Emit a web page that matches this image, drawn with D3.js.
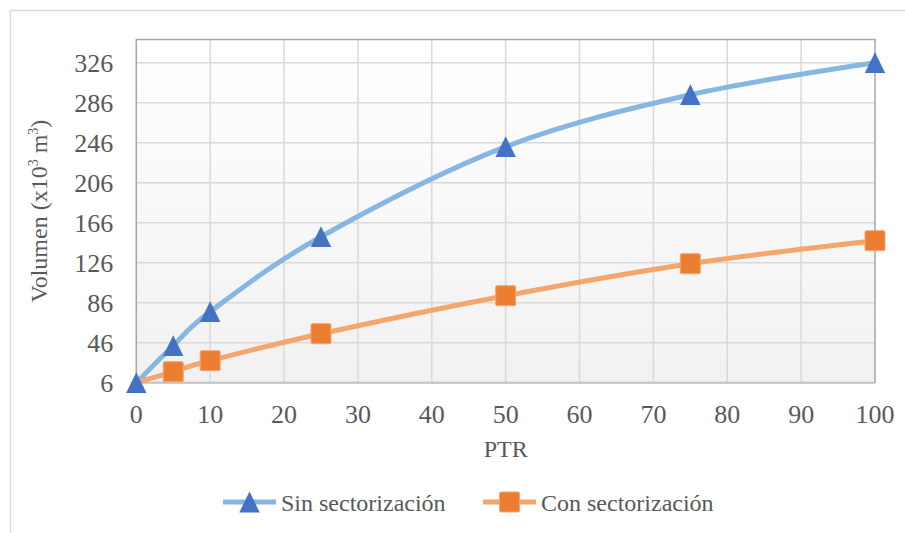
<!DOCTYPE html>
<html>
<head>
<meta charset="utf-8">
<script src="https://cdn.jsdelivr.net/npm/d3@7"></script>
<style>
  svg text, svg tspan { font-family: "Liberation Serif", "Times New Roman", serif !important; }
</style>
</head>
<body style="margin:0">
<div id="chart"></div>
<script>
// data
const ptr = [0, 5, 10, 25, 50, 75, 100];
const sinSector = [6, 43, 77, 152, 242, 294, 326];
const conSector = [6, 17, 28, 55, 93, 125, 148];
const xTicks = [0, 10, 20, 30, 40, 50, 60, 70, 80, 90, 100];
const yTicks = [6, 46, 86, 126, 166, 206, 246, 286, 326];
const seriesNames = ["Sin sectorización", "Con sectorización"];

const width = 905, height = 533;
const plotLeft = 136.3, plotRight = 875, plotTop = 39.5, plotBottom = 382.7;
const serif = "Liberation Serif";

const svg = d3.select("#chart").append("svg")
  .attr("width", width)
  .attr("height", height);

svg.append("rect").attr("width", width).attr("height", height).attr("fill", "#fff");

// outer chart frame (continues past the image edge)
svg.append("path")
  .attr("d", `M10.5,${height + 5} V10.5 H${width + 5}`)
  .attr("fill", "none")
  .attr("stroke", "#d9d9d9")
  .attr("stroke-width", 1.3);

let x = d3.scaleLinear().domain([0, 100]).range([plotLeft, plotRight]);
let y = d3.scaleLinear().domain([6, 6 + (plotBottom - plotTop)]).range([plotBottom, plotTop]);

// plot background gradient
const grad = svg.append("defs").append("linearGradient")
  .attr("id", "bg").attr("x1", 0).attr("y1", 0).attr("x2", 0).attr("y2", 1);
grad.append("stop").attr("offset", "0%").attr("stop-color", "#ffffff");
grad.append("stop").attr("offset", "100%").attr("stop-color", "#f1f1f1");

svg.append("rect")
  .attr("x", plotLeft).attr("y", plotTop)
  .attr("width", plotRight - plotLeft).attr("height", plotBottom - plotTop)
  .attr("fill", "url(#bg)");

// gridlines
svg.append("g")
  .selectAll("line")
  .data(yTicks.slice(1))
  .enter()
  .append("line")
  .attr("x1", plotLeft).attr("x2", plotRight)
  .attr("y1", d => y(d)).attr("y2", d => y(d))
  .attr("stroke", "#d9d9d9").attr("stroke-width", 1.5);

svg.append("g")
  .selectAll("line")
  .data(xTicks.slice(1, -1))
  .enter()
  .append("line")
  .attr("y1", plotTop).attr("y2", plotBottom)
  .attr("x1", d => x(d)).attr("x2", d => x(d))
  .attr("stroke", "#d9d9d9").attr("stroke-width", 1.5);

// plot area border
svg.append("path")
  .attr("d", `M${plotLeft},${plotBottom} V${plotTop} H${plotRight} V${plotBottom}`)
  .attr("fill", "none")
  .attr("stroke", "#a6a6a6")
  .attr("stroke-width", 1.5);

svg.append("line")
  .attr("x1", plotLeft).attr("x2", plotRight)
  .attr("y1", plotBottom).attr("y2", plotBottom)
  .attr("stroke", "#bfbfbf").attr("stroke-width", 2);

// tick labels, positioned with the scales
svg.append("g")
  .selectAll("text")
  .data(xTicks)
  .enter()
  .append("text")
  .attr("x", d => x(d))
  .attr("y", plotBottom + 40)
  .attr("text-anchor", "middle")
  .attr("font-family", serif)
  .style("font-family", serif)
  .attr("font-size", 26)
  .attr("fill", "#595959")
  .text(d => d);

svg.append("g")
  .selectAll("text")
  .data(yTicks)
  .enter()
  .append("text")
  .attr("x", plotLeft - 23)
  .attr("y", d => y(d) + 9)
  .attr("text-anchor", "end")
  .attr("font-family", serif)
  .style("font-family", serif)
  .attr("font-size", 26)
  .attr("fill", "#595959")
  .text(d => d);

// axis titles
svg.append("text")
  .attr("x", (plotLeft + plotRight) / 2)
  .attr("y", 457)
  .attr("text-anchor", "middle")
  .attr("font-family", serif)
  .style("font-family", serif)
  .attr("font-size", 24)
  .attr("fill", "#595959")
  .text("PTR");

const yt = svg.append("text")
  .attr("transform", `translate(47,${(plotTop + plotBottom) / 2}) rotate(-90)`)
  .attr("text-anchor", "middle")
  .attr("font-family", serif)
  .style("font-family", serif)
  .attr("font-size", 24)
  .attr("fill", "#595959");
yt.append("tspan").text("Volumen (x10");
yt.append("tspan").attr("font-size", 14).attr("dy", -9).text("3");
yt.append("tspan").attr("dy", 9).text(" m");
yt.append("tspan").attr("font-size", 14).attr("dy", -9).text("3");
yt.append("tspan").attr("dy", 9).text(")");

// series
const series = [
  { name: seriesNames[0], values: sinSector, line: "#86b6e4", mark: "#4472c4", shape: "tri", skip: -1 },
  { name: seriesNames[1], values: conSector, line: "#f4a66e", mark: "#ed7d31", shape: "sq", skip: 0 }
];

const line = d3.line()
  .x(d => x(d[0]))
  .y(d => y(d[1]))
  .curve(d3.curveCardinal.tension(0));

const triPath = "M0,-10.4 L10.2,10.4 L-10.2,10.4 Z";

function drawMarker(g, s) {
  if (s.shape === "tri") {
    g.append("path").attr("d", triPath).attr("fill", s.mark);
  } else {
    g.append("rect")
      .attr("x", -10).attr("y", -10).attr("width", 20).attr("height", 20)
      .attr("rx", 1.5)
      .attr("fill", s.mark)
      .attr("stroke", "#f4a66e").attr("stroke-width", 1);
  }
}

series.forEach(s => {
  const pts = ptr.map((p, i) => [p, s.values[i]]);
  svg.append("path")
    .datum(pts)
    .attr("d", line)
    .attr("fill", "none")
    .attr("stroke", s.line)
    .attr("stroke-width", 5);
});

// orange markers first so the blue triangle at the origin sits on top
series.slice().reverse().forEach(s => {
  svg.append("g")
    .selectAll("g")
    .data(ptr.map((p, i) => [p, s.values[i], i]).filter(d => d[2] !== s.skip))
    .enter()
    .append("g")
    .attr("transform", d => "translate(" + x(d[0]) + "," + y(d[1]) + ")")
    .each(function() { drawMarker(d3.select(this), s); });
});

// legend
const legendX = [223, 483];
const legend = svg.append("g");
series.forEach((s, i) => {
  const g = legend.append("g").attr("transform", `translate(${legendX[i]},502)`);
  g.append("line")
    .attr("x1", 0).attr("x2", 53)
    .attr("stroke", s.line).attr("stroke-width", 5);
  const m = g.append("g").attr("transform", "translate(26.5,0)");
  drawMarker(m, s);
  g.append("text")
    .attr("x", 58).attr("y", 8.5)
    .attr("font-family", serif)
    .style("font-family", serif)
    .attr("font-size", 24)
    .attr("fill", "#595959")
    .text(s.name);
});
</script>
</body>
</html>
